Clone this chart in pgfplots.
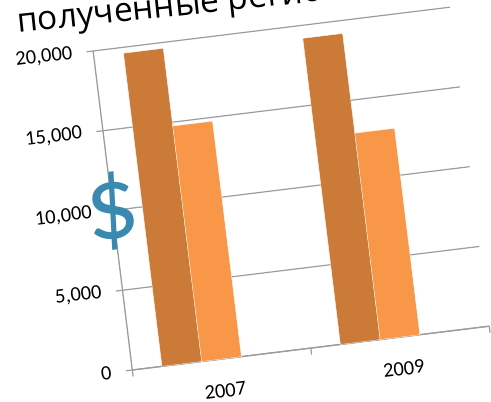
\documentclass[border=0pt]{standalone}
\usepackage{pgfplots}
\pgfplotsset{compat=1.18}
\usepackage{fontspec}
\setmainfont{Carlito}
\newfontfamily\titlefont{Open Sans}
\definecolor{barA}{HTML}{CB7B37}
\definecolor{barB}{HTML}{F89747}
\definecolor{gridc}{HTML}{9C9C9C}
\definecolor{dollar}{HTML}{3A89B0}
\begin{document}
\begin{tikzpicture}[x=1pt,y=1pt]
\useasboundingbox (0,0) rectangle (491,402);
\clip (0,0) rectangle (491,402);
\begin{scope}[shift={(132.3,32)},rotate=7,transform shape]
\begin{axis}[
  at={(0pt,0pt)}, anchor=south west,
  width=359.6pt, height=321.4pt, scale only axis,
  xmin=0, xmax=2, ymin=0, ymax=20000,
  axis lines*=left, axis line style={-, draw=gridc, line width=1.3pt},
  xtick={0.5,1.5}, xticklabels={2007,2009},
  minor xtick={0,1,2},
  ytick={0,5000,10000,15000,20000},
  ymajorgrids, grid style={draw=gridc, line width=1.2pt},
  major tick style={draw=gridc, line width=1.2pt},
  minor tick style={draw=gridc, line width=1.2pt},
  xtick style={draw=none},
  minor x tick style={draw=gridc},
  tick align=outside, major tick length=6.5pt, minor tick length=6.5pt,
  scaled y ticks=false,
  /pgf/number format/1000 sep={,},
  /pgf/number format/assume math mode=true,
  ticklabel style={font=\fontsize{20.5}{24}\selectfont, text=black},
  yticklabel style={anchor=east, xshift=-11pt},
  xticklabel style={anchor=north, yshift=-15pt, /pgf/number format/1000 sep={}},
  clip=false,
  ybar, bar width=40pt,
]
\addplot[fill=barA, draw=white, line width=0.3pt, bar shift=-40pt] coordinates {(0.5,19630) (1.5,19190)};
\addplot[fill=barB, draw=white, line width=0.3pt, bar shift=0pt] coordinates {(0.5,14760) (1.5,12940)};
\end{axis}
\end{scope}
\node[rotate=6, anchor=base west, inner sep=0pt, font=\titlefont\fontsize{33.5}{40}\selectfont] at (18,369) {полученные регионами};
\node[rotate=6, anchor=base west, inner sep=0pt, font=\titlefont\fontsize{33.5}{40}\selectfont] at (13,411) {Средний доход,};
\node[rotate=7, inner sep=0pt, text=dollar, draw=none, font=\fontsize{105}{120}\selectfont] at (113,191) {\$};
\end{tikzpicture}
\end{document}
